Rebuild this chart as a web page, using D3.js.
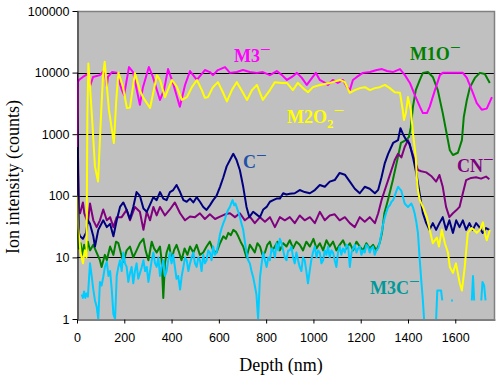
<!DOCTYPE html>
<html><head><meta charset="utf-8">
<script src="https://cdn.jsdelivr.net/npm/d3@7"></script>
<style>body{margin:0;background:#fff}</style>
</head><body><svg id="c" width="500" height="380"></svg>
<script>
const xTicks = [0,200,400,600,800,1000,1200,1400,1600];
const yTicks = [1,10,100,1000,10000,100000];
const seriesNames = ["M1O","CN","M3C","C","M3","M2O2"];

const m3 = [[0,620],[4,7000],[8,7600],[25,8500],[45,9500],[55,6000],[68,8500],[97,9100],[110,10400],[118,10600],[126,6000],[131,8500],[148,10200],[173,9900],[182,6500],[190,5200],[199,4300],[220,12300],[237,10200],[266,3000],[279,5800],[304,12300],[321,8500],[351,3600],[368,5200],[385,11400],[406,6800],[435,2800],[457,6300],[478,10600],[507,7600],[541,11000],[562,10200],[575,9100],[596,11000],[626,12300],[647,9900],[676,10200],[702,11000],[731,10200],[761,9900],[786,10200],[816,9100],[845,10600],[867,9100],[888,7600],[909,8500],[930,9900],[951,8200],[972,6300],[994,8200],[1010,9900],[1027,7600],[1049,6800],[1061,6300],[1082,7600],[1103,6800],[1125,7600],[1142,5800],[1154,5200],[1167,7600],[1184,8500],[1209,9900],[1239,10200],[1268,11000],[1290,11400],[1311,10600],[1336,10200],[1366,11400],[1387,9100],[1408,6800],[1429,4300],[1450,2800],[1463,2200],[1480,2200],[1492,2800],[1514,5200],[1535,9100],[1547,9900],[1577,9900],[1607,9900],[1632,9900],[1649,8200],[1670,5200],[1691,3200],[1712,2500],[1733,2600],[1755,4000]];

const m2o2 = [[0,100],[5,30],[15,12],[25,8],[33,13],[40,10],[44,2000],[48,14000],[55,6000],[65,1500],[76,300],[89,170],[100,1500],[110,9000],[117,15000],[135,2500],[156,720],[166,3500],[175,10000],[195,5800],[211,2660],[224,2700],[245,9800],[266,5200],[279,4000],[309,2660],[338,9100],[351,7600],[372,4000],[402,7600],[423,5800],[444,3600],[465,4000],[486,5800],[507,7600],[528,5200],[541,3900],[554,4000],[575,5800],[596,7000],[617,4800],[634,3400],[655,5200],[676,7000],[702,4700],[719,3600],[740,5200],[761,6300],[774,4700],[786,3600],[816,5200],[837,7000],[867,6800],[888,6800],[913,5200],[934,6800],[956,5600],[977,4800],[998,5800],[1027,6300],[1070,6800],[1112,7600],[1133,7000],[1154,4700],[1175,5200],[1197,5600],[1218,5800],[1239,5200],[1260,5600],[1281,5800],[1302,6300],[1323,5600],[1344,4800],[1366,4700],[1378,2470],[1383,1700],[1391,2200],[1400,4000],[1412,2470],[1421,1040],[1433,420],[1437,200],[1442,124],[1450,85],[1463,66],[1480,45],[1492,28],[1505,17],[1522,21],[1531,15],[1543,28],[1556,17],[1569,12],[1577,7],[1590,5.6],[1603,8],[1619,3.8],[1628,2.9],[1640,7],[1653,25],[1670,30],[1691,25],[1704,28],[1717,37],[1725,25],[1733,19],[1746,28]];

const m1o = [[0,50],[8,14],[15,17],[22,11],[30,16],[38,12],[46,18],[55,13],[69,16],[83,12],[97,9],[104,7],[118,11],[126,9],[140,15],[154,11],[165,18],[175,17],[185,12],[196,8.5],[210,13],[224,15],[238,10],[252,13],[266,17],[281,20],[290,13],[302,9],[316,18],[326,14],[337,12],[351,15],[358,9],[365,2.2],[372,8],[379,12],[390,16],[400,9],[410,13],[421,16],[432,12],[442,9],[455,14],[467,11],[478,15],[492,12],[506,16],[520,11],[534,12],[548,15],[562,18],[576,13],[590,12],[605,17],[619,22],[630,20],[640,25],[651,23],[661,28],[672,26],[682,22],[692,18],[703,15],[717,10],[731,16],[741,14],[752,12],[763,17],[774,15],[784,11],[795,12],[805,16],[816,18],[826,13],[837,15],[848,18],[858,13],[872,17],[886,15],[900,19],[914,14],[928,18],[942,16],[956,13],[970,18],[985,15],[1000,20],[1013,14],[1027,17],[1041,13],[1055,19],[1069,15],[1083,18],[1097,13],[1111,16],[1125,19],[1140,14],[1154,17],[1168,13],[1182,18],[1196,15],[1210,13],[1224,17],[1238,14],[1252,16],[1266,13],[1280,17],[1290,25],[1300,52],[1315,85],[1336,180],[1357,420],[1370,720],[1391,800],[1404,900],[1412,1300],[1421,2800],[1433,5200],[1450,7600],[1463,9900],[1484,10200],[1505,8500],[1526,5200],[1547,2200],[1564,1000],[1577,550],[1590,460],[1611,500],[1628,800],[1636,1900],[1649,3600],[1662,5800],[1683,8200],[1704,9900],[1725,9500],[1746,6800]];

const cn = [[0,10000],[4,500],[8,60],[13,52],[25,78],[31,52],[46,36],[55,75],[69,40],[83,31],[97,40],[111,60],[126,40],[140,45],[154,31],[168,45],[189,45],[210,59],[224,40],[245,66],[266,55],[281,28],[295,55],[309,40],[323,66],[337,48],[351,66],[372,48],[393,60],[414,78],[436,52],[457,40],[478,46],[499,45],[520,52],[541,42],[562,50],[584,42],[605,46],[626,50],[647,52],[668,45],[689,52],[710,40],[731,46],[752,36],[774,45],[795,38],[816,45],[837,31],[858,45],[879,40],[900,45],[921,36],[942,48],[963,40],[985,45],[1006,36],[1027,55],[1048,40],[1069,48],[1090,50],[1111,40],[1133,45],[1154,36],[1175,31],[1196,45],[1217,38],[1238,45],[1260,36],[1274,52],[1288,85],[1302,124],[1316,180],[1330,262],[1344,380],[1358,480],[1372,420],[1386,620],[1400,800],[1414,550],[1428,380],[1442,262],[1456,250],[1477,240],[1498,210],[1519,170],[1533,218],[1547,140],[1561,66],[1575,45],[1590,52],[1604,58],[1618,66],[1632,110],[1646,180],[1667,195],[1688,200],[1709,190],[1730,205],[1744,185]];

const cMinus = [[0,3500],[4,300],[8,25],[13,22],[25,20],[38,25],[46,40],[55,35],[69,22],[76,15],[90,28],[111,40],[126,31],[140,35],[154,22],[168,40],[182,66],[196,78],[210,59],[224,42],[238,66],[252,115],[266,100],[281,62],[295,55],[309,72],[323,95],[337,85],[351,115],[365,90],[379,85],[393,115],[407,124],[421,150],[436,115],[450,85],[464,80],[478,90],[492,78],[506,95],[520,80],[534,66],[548,59],[562,70],[576,85],[590,100],[605,140],[619,200],[633,300],[647,380],[661,480],[675,380],[689,260],[703,140],[717,66],[729,45],[745,55],[759,50],[774,45],[788,60],[802,66],[816,80],[830,85],[844,90],[858,90],[872,110],[886,105],[900,108],[921,110],[942,124],[963,115],[985,110],[1006,124],[1027,150],[1048,140],[1069,170],[1090,180],[1111,235],[1133,220],[1154,170],[1175,130],[1196,110],[1217,140],[1238,130],[1260,110],[1274,125],[1288,200],[1302,340],[1316,480],[1337,720],[1358,800],[1368,1250],[1379,1000],[1393,800],[1407,700],[1421,420],[1435,235],[1449,110],[1463,52],[1477,36],[1491,28],[1505,36],[1519,28],[1533,36],[1547,45],[1561,28],[1575,40],[1590,25],[1604,40],[1618,31],[1632,40],[1646,28],[1660,36],[1674,28],[1688,36],[1702,31],[1716,25],[1730,30],[1744,28]];

const m3c = [[20,2.5],[25,2.2],[30,2.8],[35,2.2],[40,2.6],[46,2.3],[55,8],[62,5],[69,3],[76,2],[83,1.6],[90,1],[97,4],[104,3.5],[111,4.8],[118,7],[126,8.5],[133,5],[140,6],[147,3],[154,1.2],[161,1],[168,5],[175,7],[182,9],[189,6],[196,12],[203,8],[210,7],[217,4],[224,5.5],[231,7],[238,3.8],[245,6],[252,8],[259,4.5],[266,5.5],[274,7],[281,9],[288,6],[295,7],[302,4],[309,6],[316,9],[323,12],[330,8],[337,7],[344,10],[351,5],[358,7],[365,9],[372,5],[379,6],[386,9],[393,12],[400,8],[407,11],[414,7],[421,4.5],[428,5],[436,3],[443,5],[450,7],[457,10],[464,9],[471,6],[478,8],[485,10],[492,12],[499,8],[506,7],[513,10],[520,9],[527,6],[534,11],[541,8],[548,9],[555,13],[562,12],[569,9],[576,15],[583,11],[590,12],[597,16],[605,24],[612,30],[619,36],[626,42],[633,52],[640,60],[647,66],[652,75],[658,85],[665,70],[670,75],[675,66],[682,55],[689,45],[696,35],[703,28],[710,18],[717,12],[724,9],[731,8],[738,6],[745,4.8],[752,3.5],[759,2.5],[766,1],[774,4.8],[781,8],[788,12],[795,9],[802,7],[809,10],[816,9],[823,14],[830,13],[837,10],[844,17],[851,13],[858,20],[865,17],[872,13],[879,10],[886,9],[893,13],[900,13],[907,15],[914,10],[921,8],[928,12],[935,9],[942,7],[949,6],[956,10],[963,9],[970,6],[977,3.8],[984,6],[991,9],[998,12],[1006,15],[1013,10],[1020,13],[1027,12],[1034,8],[1041,9],[1048,13],[1055,11],[1062,15],[1069,10],[1076,13],[1083,12],[1090,9],[1097,7],[1104,12],[1111,15],[1118,11],[1125,14],[1133,12],[1140,16],[1147,15],[1154,7],[1161,12],[1168,14],[1175,16],[1182,12],[1189,14],[1196,15],[1203,11],[1210,13],[1217,12],[1224,16],[1231,15],[1238,12],[1245,14],[1252,15],[1259,11],[1266,13],[1274,14],[1281,18],[1288,25],[1295,35],[1302,45],[1309,55],[1316,66],[1323,70],[1330,80],[1337,85],[1344,100],[1351,120],[1358,140],[1365,130],[1372,120],[1379,95],[1386,75],[1393,70],[1400,66],[1407,70],[1414,75],[1421,65],[1428,52],[1435,38],[1442,25],[1449,10],[1456,4.3],[1463,2],[1468,1],[1470,null],[1519,1],[1524,2.9],[1540,2.9],[1545,2],[1547,null],[1582,2],[1590,2],[1592,null],[1670,2],[1675,5],[1680,2],[1682,null],[1710,2],[1715,4],[1722,3.5],[1728,2],[1730,null]];

const labels = [
  {name:"M3", d:664, v:14900, color:"#FF00FF"},
  {name:"M1O", d:1408, v:16000, color:"#008000"},
  {name:"M2O", sub:"2", d:888, v:1520, color:"#FFFF00"},
  {name:"C", d:702, v:283, color:"#2050A8"},
  {name:"CN", d:1607, v:243, color:"#800080"},
  {name:"M3C", d:1239, v:2.55, color:"#009999"}
];

const series = [
  {data:m1o, color:"#008000"},
  {data:cn, color:"#800080"},
  {data:m3c, color:"#00CCFF"},
  {data:cMinus, color:"#000080"},
  {data:m3, color:"#FF00FF"},
  {data:m2o2, color:"#FFFF00"}
];

const svg = d3.select("#c");
const L=77, T=11, R=495, B=319;
const x = d3.scaleLinear().domain([0,1768]).range([L,R]);
const y = d3.scaleLog().domain([1,100000]).range([B,T]);

svg.append("rect").attr("x",L).attr("y",T).attr("width",R-L).attr("height",B-T).attr("fill","#C0C0C0");

// gridlines
svg.append("g").selectAll("line").data(yTicks.filter(v=>v>1 && v<100000)).join("line")
  .attr("x1",L).attr("x2",R)
  .attr("y1",d=>Math.round(y(d))+0.5).attr("y2",d=>Math.round(y(d))+0.5)
  .attr("stroke","#000").attr("stroke-width",1);

// plot border top/right
svg.append("path").attr("d",`M${L},${T+0.5}H${R-0.5}V${B}`).attr("fill","none").attr("stroke","#808080").attr("stroke-width",1.5);

svg.append("clipPath").attr("id","clip").append("rect").attr("x",L).attr("y",T).attr("width",R-L).attr("height",B-T);

const line = d3.line().defined(d=>d[1]!=null).x(d=>x(d[0])).y(d=>y(Math.max(d[1],0.5)));
const g = svg.append("g").attr("clip-path","url(#clip)");
series.forEach(s=>{
  g.append("path").datum(s.data).attr("d",line).attr("fill","none")
   .attr("stroke",s.color).attr("stroke-width",2).attr("stroke-linejoin","round");
});

// axes
const ya = svg.append("g").attr("transform",`translate(${L+0.5},0)`)
  .call(d3.axisLeft(y).tickValues(yTicks).tickFormat(d3.format("d")).tickSize(5).tickSizeOuter(0).tickPadding(3));
const xa = svg.append("g").attr("transform",`translate(0,${B+0.5})`)
  .call(d3.axisBottom(x).tickValues(xTicks).tickFormat(d3.format("d")).tickSize(4).tickSizeOuter(0).tickPadding(10));
[ya,xa].forEach(a=>{
  a.selectAll("text").attr("font-family","'Liberation Sans', Arial, sans-serif").attr("font-size","12.5px").attr("fill","#000");
  a.selectAll("line").attr("stroke","#000");
  a.select(".domain").attr("stroke","#000");
});

svg.append("text").attr("x",281).attr("y",371).attr("text-anchor","middle")
  .attr("font-family","'Liberation Serif', 'Times New Roman', serif").attr("font-size","18px").text("Depth (nm)");
svg.append("text").attr("transform","translate(19,177) rotate(-90)").attr("text-anchor","middle")
  .attr("font-family","'Liberation Serif', 'Times New Roman', serif").attr("font-size","18px").text("Ion intensity (counts)");

// series labels
labels.forEach(l=>{
  const t = svg.append("text").attr("x",x(l.d)).attr("y",y(l.v))
    .attr("font-family","'Liberation Serif', 'Times New Roman', serif").attr("font-size","18px")
    .attr("font-weight","bold").attr("fill",l.color);
  t.append("tspan").text(l.name);
  if (l.sub) {
    t.append("tspan").attr("font-size","13px").attr("dy",5).text(l.sub);
    t.append("tspan").attr("font-size","19px").attr("font-weight","normal").attr("dy",-11).text("\u2212");
  } else {
    t.append("tspan").attr("font-size","19px").attr("font-weight","normal").attr("dy",-6).text("\u2212");
  }
});
</script></body></html>
